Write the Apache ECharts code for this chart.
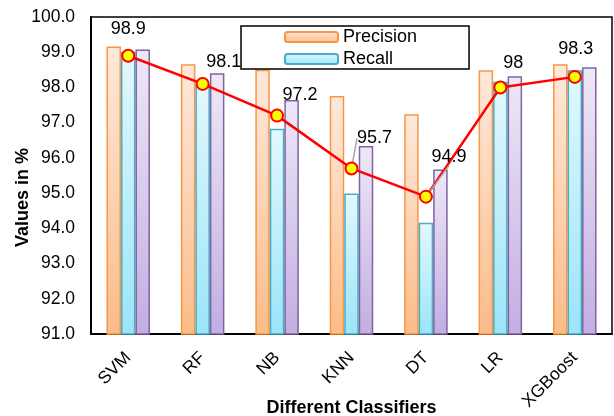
<!DOCTYPE html>
<html>
<head>
<meta charset="utf-8">
<script src="https://cdn.jsdelivr.net/npm/echarts@6/dist/echarts.min.js"></script>
<style>
  html, body { margin: 0; padding: 0; background: #fff; }
  #chart { width: 614px; height: 416px; }
</style>
</head>
<body>
<div id="chart"></div>
<script>
// ---- data ----
const categories = ['SVM', 'RF', 'NB', 'KNN', 'DT', 'LR', 'XGBoost'];
const precision  = [99.16, 98.66, 98.50, 97.76, 97.24, 98.49, 98.66];
const recall     = [99.01, 98.10, 96.83, 94.99, 94.16, 98.16, 98.49];
const third      = [99.08, 98.40, 97.64, 96.34, 95.67, 98.32, 98.57];
const lineValues = [98.9, 98.1, 97.2, 95.7, 94.9, 98, 98.3];
const yTicks = { min: 91, max: 100, interval: 1 };

// ---- styling ----
const FONT = 'Liberation Sans, Arial, sans-serif';
const labelShift = [[0, -6], [21, -1], [23, 0], [23, -9], [23, -19], [13, -3], [1, -7]];
const leaderOn   = [false, false, false, true, true, false, false];

function grad(top, bottom) {
  return { type: 'linear', x: 0, y: 0, x2: 0, y2: 1,
    colorStops: [{ offset: 0, color: top }, { offset: 1, color: bottom }] };
}

const chart = echarts.init(document.getElementById('chart'), null, { renderer: 'canvas' });

chart.setOption({
  animation: false,
  textStyle: { fontFamily: FONT, color: '#000' },
  grid: {
    left: 91, right: 2, top: 17, bottom: 82,
    outerBoundsMode: 'none', containLabel: false,
    show: true, borderColor: '#000', borderWidth: 1.5, backgroundColor: 'transparent'
  },
  legend: {
    data: ['Precision', 'Recall'],
    orient: 'vertical',
    left: 241, top: 26,
    itemWidth: 53, itemHeight: 10, itemGap: 4, itemTextGap: 5,
    padding: [2, 52, 1, 43],
    borderColor: '#000', borderWidth: 1.5, backgroundColor: '#fff',
    z: 20,
    textStyle: { fontSize: 18, color: '#000', fontFamily: FONT }
  },
  xAxis: {
    type: 'category',
    data: categories,
    name: 'Different Classifiers',
    nameLocation: 'middle',
    nameGap: 65,
    nameMoveOverlap: false,
    nameTextStyle: { fontSize: 18, fontWeight: 'bold', color: '#000', fontFamily: FONT },
    axisLine: { lineStyle: { color: '#000', width: 2 } },
    axisTick: { show: false },
    axisLabel: { rotate: 45, fontSize: 17.5, color: '#000', margin: 21, fontFamily: FONT }
  },
  yAxis: {
    type: 'value',
    min: yTicks.min, max: yTicks.max, interval: yTicks.interval,
    name: 'Values in %',
    nameLocation: 'middle',
    nameRotate: 90,
    nameGap: 59,
    nameMoveOverlap: false,
    nameTextStyle: { fontSize: 18, fontWeight: 'bold', color: '#000', fontFamily: FONT, padding: [0, 44, 0, 0] },
    axisLine: { show: true, lineStyle: { color: '#000', width: 2 } },
    axisTick: { show: false },
    splitLine: { show: false },
    axisLabel: { fontSize: 17.5, color: '#000', margin: 16, fontFamily: FONT,
      formatter: v => v.toFixed(1) }
  },
  series: [
    {
      name: 'Precision', type: 'bar', data: precision,
      barWidth: 14.5, barGap: '0%',
      itemStyle: { color: grad('#FEE9DC', '#FBBC88'), borderColor: '#F79646', borderWidth: 1.5 }
    },
    {
      name: 'Recall', type: 'bar', data: recall,
      barWidth: 14.5, barGap: '0%',
      itemStyle: { color: grad('#E3F8FD', '#9AE5F8'), borderColor: '#4BACC6', borderWidth: 1.5 }
    },
    {
      name: 'F1', type: 'bar', data: third,
      barWidth: 14.5, barGap: '0%',
      itemStyle: { color: grad('#EEE8F6', '#C2AEE2'), borderColor: '#8064A2', borderWidth: 1.5 }
    },
    {
      name: 'Accuracy', type: 'line',
      data: lineValues.map((v, i) => ({
        value: v,
        labelLine: { show: leaderOn[i], lineStyle: { color: '#A6A6A6', width: 1.5 } }
      })),
      z: 10,
      symbol: 'circle', symbolSize: 12,
      lineStyle: { color: '#FF0000', width: 2.5 },
      itemStyle: { color: '#FFFF00', borderColor: '#FF0000', borderWidth: 2 },
      label: { show: true, position: 'top', fontSize: 18, color: '#000', fontFamily: FONT },
      labelLayout: p => ({ dx: labelShift[p.dataIndex][0], dy: labelShift[p.dataIndex][1] }),
      labelLine: { show: false }
    }
  ]
});
</script>
</body>
</html>
